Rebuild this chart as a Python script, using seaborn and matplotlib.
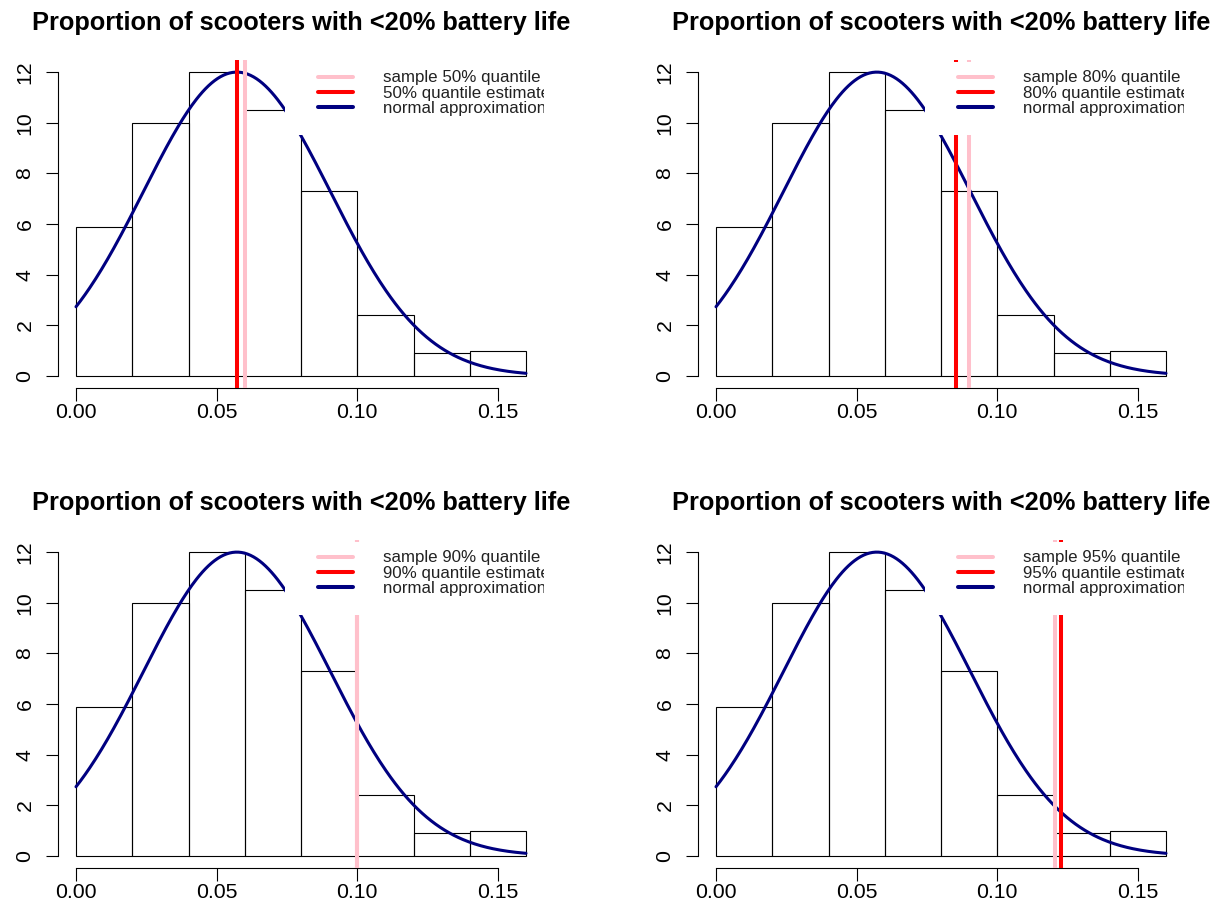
import numpy as np
import pandas as pd
import seaborn as sns
import matplotlib.pyplot as plt
from matplotlib.lines import Line2D
from matplotlib.patches import Rectangle

# histogram (density scale), bins of width 0.02
bin_edges = [0.00, 0.02, 0.04, 0.06, 0.08, 0.10, 0.12, 0.14, 0.16]
bin_density = [5.9, 10.0, 12.0, 10.5, 7.3, 2.4, 0.9, 1.0]

# normal approximation parameters
norm_mean = 0.0572
norm_sd = 0.03324

# one panel per quantile level
levels = ["50%", "80%", "90%", "95%"]
sample_q = [0.0600, 0.0900, 0.0998, 0.1205]
estimate_q = [0.0572, 0.0852, 0.0998, 0.1226]

title = "Proportion of scooters with <20% battery life"

sns.set_style("white")
plt.rcParams['font.family'] = ['Liberation Sans', 'DejaVu Sans']
plt.rcParams['text.color'] = 'black'

W, H = 1216, 917
fig = plt.figure(figsize=(W / 100, H / 100), dpi=100)

# plot regions in pixels: (left, top)
regions = [(58, 60), (698, 60), (58, 540), (698, 540)]
pw, ph = 486, 328

mids = [(a + b) / 2 for a, b in zip(bin_edges[:-1], bin_edges[1:])]
hist_df = pd.DataFrame({"x": mids, "w": bin_density})
xs = np.linspace(0, 0.16, 300)
curve_df = pd.DataFrame({"x": xs,
                         "y": np.exp(-(xs - norm_mean) ** 2 / (2 * norm_sd ** 2))
                         / (norm_sd * np.sqrt(2 * np.pi))})

for i, (left, top) in enumerate(regions):
    ax = fig.add_axes([left / W, 1 - (top + ph) / H, pw / W, ph / H])
    sns.histplot(data=hist_df, x="x", weights="w", bins=bin_edges, fill=False,
                 color="black", linewidth=0.8, ax=ax, zorder=1)
    sns.lineplot(data=curve_df, x="x", y="y", color="#000080", linewidth=2.2,
                 ax=ax, zorder=2)
    ax.axvline(estimate_q[i], color="red", linewidth=2.9, zorder=3)
    ax.axvline(sample_q[i], color="pink", linewidth=2.9, zorder=3)

    ax.set_xlim(-0.0064, 0.1664)
    ax.set_ylim(-0.48, 12.48)
    ax.set_xticks([0, 0.05, 0.10, 0.15])
    ax.set_xticklabels(["0.00", "0.05", "0.10", "0.15"])
    ax.set_yticks(range(0, 13, 2))
    ax.set_xlabel("")
    ax.set_ylabel("")
    for s in ["top", "right"]:
        ax.spines[s].set_visible(False)
    ax.spines["left"].set_bounds(0, 12)
    ax.spines["bottom"].set_bounds(0, 0.15)
    for s in ["left", "bottom"]:
        ax.spines[s].set_linewidth(0.8)
        ax.spines[s].set_color("black")
    ax.tick_params(axis="both", direction="out", length=9, width=0.8,
                   labelsize=15.3, colors="black", left=True, bottom=True)
    ax.tick_params(axis="x", pad=2)
    ax.tick_params(axis="y", pad=8)
    for lab in ax.get_yticklabels():
        lab.set_rotation(90)
        lab.set_va("center")
        lab.set_ha("right")
    ax.set_title(title, fontsize=18.3, fontweight="bold", pad=21.6,
                 color="black")

    # white legend background
    ax.add_patch(Rectangle((0.467, 0.771), 0.54, 0.223, transform=ax.transAxes,
                           facecolor="white", edgecolor="none", zorder=4))
    handles = [Line2D([], [], color="pink", linewidth=2.9),
               Line2D([], [], color="red", linewidth=2.9),
               Line2D([], [], color="#000080", linewidth=2.9)]
    labels = ["sample %s quantile" % levels[i],
              "%s quantile estimate" % levels[i],
              "normal approximation"]
    leg = ax.legend(handles, labels, loc="upper left",
                    bbox_to_anchor=(0.535, 0.968), frameon=False,
                    fontsize=12.2, handlelength=2.06, handletextpad=1.76,
                    labelspacing=0.02, borderpad=0, borderaxespad=0)
    for t in leg.get_texts():
        t.set_color("#222222")
        t.set_clip_box(ax.bbox)
        t.set_clip_on(True)

fig.savefig("out.png", dpi=100)
